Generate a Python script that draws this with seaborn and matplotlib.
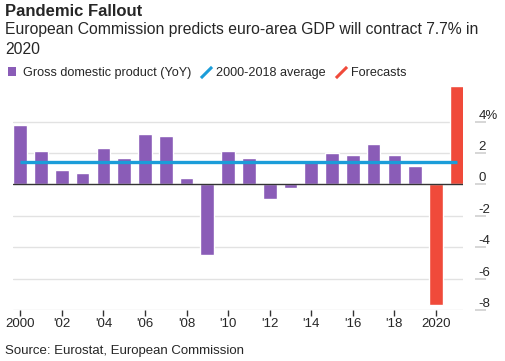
import numpy as np
import pandas as pd
import matplotlib
matplotlib.use("Agg")
import matplotlib.pyplot as plt
from matplotlib.lines import Line2D
from matplotlib.patches import Patch
import seaborn as sns

# data (euro area real GDP, % YoY)
years = [str(y) for y in range(2000, 2022)]
gdp = [3.8, 2.1, 0.9, 0.7, 2.3, 1.7, 3.2, 3.1, 0.4, -4.5, 2.1,
       1.7, -0.9, -0.2, 1.4, 2.0, 1.9, 2.6, 1.9, 1.2, -7.7, 6.3]
kind = ["actual"] * 20 + ["forecast"] * 2
avg_2000_2018 = 1.43

x_ticklabels = ["2000", "'02", "'04", "'06", "'08", "'10",
                "'12", "'14", "'16", "'18", "2020"]
y_ticks = [-8, -6, -4, -2, 0, 2, 4]
y_ticklabels = ["-8", "-6", "-4", "-2", "0", "2", "4%"]

purple = "#8A5CB7"
blue = "#1B9DD9"
red = "#F04A3A"

df = pd.DataFrame({"year": years, "gdp": gdp, "kind": kind})

sns.set_style("white")
plt.rcParams["font.family"] = ["Liberation Sans", "DejaVu Sans"]

fig = plt.figure(figsize=(5.06, 3.61), dpi=100)
ax = fig.add_axes([13 / 506, 51 / 361, 450 / 506, 226 / 361])

# gridlines
for t in y_ticks:
    if t != 0:
        ax.axhline(t, color="#e2e2e2", lw=1, zorder=0)

sns.barplot(data=df, x="year", y="gdp", hue="kind", dodge=False,
            palette={"actual": purple, "forecast": red}, width=0.66,
            saturation=1, legend=False, ax=ax, zorder=2)
ax.axhline(0, color="#333333", lw=1, zorder=3)
ax.hlines(avg_2000_2018, 0, len(years) - 1, color=blue, lw=2.4, zorder=4)

ax.set_xlim(-0.35, 21.3)
ax.set_ylim(-8, 6.4)
ax.set_xlabel("")
ax.set_ylabel("")

for s in ["top", "left", "bottom"]:
    ax.spines[s].set_visible(False)
ax.spines["right"].set_position(("outward", 9))
ax.spines["right"].set_visible(False)

ax.set_xticks(range(0, 21, 2))
ax.set_xticklabels(x_ticklabels, fontsize=9.5)
ax.tick_params(axis="x", length=4, width=1, color="#333333", pad=2, bottom=True)

ax.yaxis.tick_right()
ax.set_yticks(y_ticks)
ax.set_yticklabels(y_ticklabels, fontsize=9.5, va="bottom")
ax.tick_params(axis="y", length=8, width=1.2, color="#cfcfcf", pad=-6, right=True, left=False)
for tick in ax.yaxis.get_major_ticks():
    if tick.get_loc() == 0:
        tick.tick2line.set_color("#333333")

# legend
handles = [
    Patch(facecolor=purple, edgecolor="none"),
    Line2D([], [], linestyle="none", marker=[(-1, -1), (1, 1)], markersize=8,
           markeredgecolor=blue, markeredgewidth=2.2),
    Line2D([], [], linestyle="none", marker=[(-1, -1), (1, 1)], markersize=8,
           markeredgecolor=red, markeredgewidth=2.2),
]
fig.legend(handles, ["Gross domestic product (YoY)", "2000-2018 average", "Forecasts"],
           loc="center left", bbox_to_anchor=(0.0, 0.797), ncol=3, frameon=False,
           fontsize=9.1, handlelength=0.7, handleheight=0.7, handletextpad=0.5,
           columnspacing=0.8, borderaxespad=0.2)

fig.text(5 / 506, 1 - 11 / 361, "Pandemic Fallout", fontsize=12, fontweight="bold",
         va="center", ha="left")
fig.text(5 / 506, 1 - 39.5 / 361,
         "European Commission predicts euro-area GDP will contract 7.7% in\n2020",
         fontsize=11.3, va="center", ha="left", linespacing=1.35)
fig.text(5 / 506, 1 - 351 / 361, "Source: Eurostat, European Commission",
         fontsize=9.5, va="center", ha="left")

fig.savefig("out.png", dpi=100)
